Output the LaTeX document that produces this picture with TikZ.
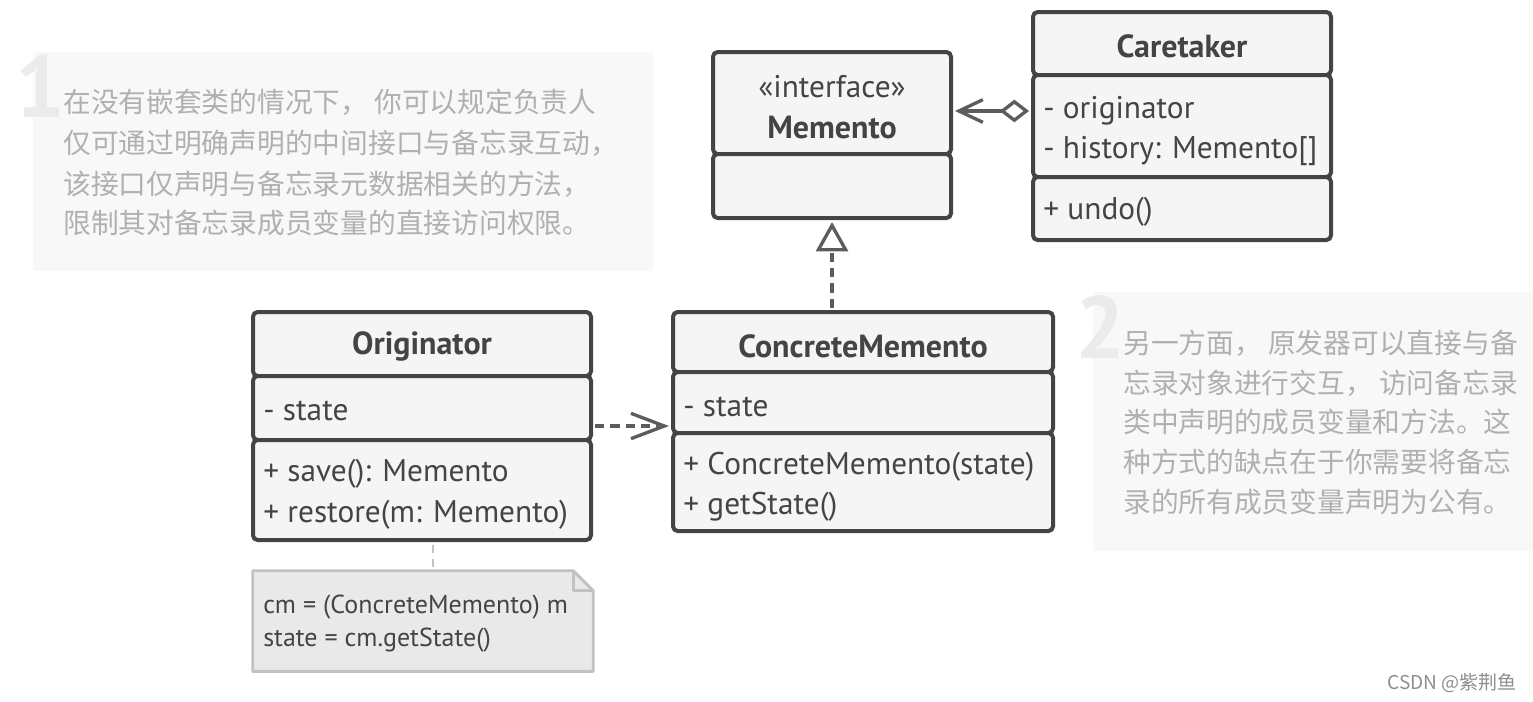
\documentclass[tikz,border=0pt]{standalone}
\usepackage{fontspec}
\setmainfont{PT Sans}
\newfontfamily\cjk{Noto Sans CJK SC}
\usetikzlibrary{arrows.meta,fit}
\definecolor{dk}{HTML}{444444}
\definecolor{bx}{HTML}{F5F5F5}
\definecolor{ar}{HTML}{5C5C5C}
\definecolor{nfill}{HTML}{E9E9E9}
\definecolor{nline}{HTML}{C2C2C2}
\definecolor{panel}{HTML}{F8F8F8}
\definecolor{digit}{HTML}{EBEBEB}
\definecolor{cjkc}{HTML}{B0B0B0}
\begin{document}
\begin{tikzpicture}[x=0.75pt,y=-0.75pt,
  box/.style={draw=dk, line width=3pt, fill=bx, rounded corners=3.5pt, inner sep=0pt},
  ttl/.style={font=\fontsize{24pt}{28pt}\selectfont\bfseries, text=dk, inner sep=0pt, yshift=-1.5pt},
  mem/.style={font=\fontsize{23.5pt}{28pt}\selectfont, text=dk, inner sep=0pt, anchor=west, yshift=-2.2pt},
  nt/.style={font=\fontsize{19.5pt}{23pt}\selectfont, text=dk, inner sep=0pt, anchor=west, yshift=-1pt},
  cn/.style={font=\cjk\fontsize{20.8pt}{25pt}\selectfont, text=cjkc, inner sep=0pt, anchor=west},
  dg/.style={font=\fontsize{66pt}{70pt}\selectfont\bfseries, text=digit, inner sep=0pt},
  pan/.style={fill=panel, inner sep=0pt},
  conn/.style={draw=ar, line width=3pt},
  dsh/.style={dash pattern=on 7pt off 4.5pt}
]
\useasboundingbox (0,0) rectangle (1533,701);

% panels
\node[pan, fit={(33,52)(653,271)}] (p1) {};
\node[pan, fit={(1093,292)(1533,551)}] (p2) {};
\node[dg, anchor=north west] (d1) at (15,55) {1};
\node[dg, anchor=north west] (d2) at (1075,295) {2};
\node[cn] (l11) at (63,102) {在没有嵌套类的情况下， 你可以规定负责人};
\node[cn] (l12) at (63,143) {仅可通过明确声明的中间接口与备忘录互动，};
\node[cn] (l13) at (63,184) {该接口仅声明与备忘录元数据相关的方法，};
\node[cn] (l14) at (63,223) {限制其对备忘录成员变量的直接访问权限。};
\node[cn] (l21) at (1123,343) {另一方面， 原发器可以直接与备};
\node[cn] (l22) at (1123,383) {忘录对象进行交互， 访问备忘录};
\node[cn] (l23) at (1123,422) {类中声明的成员变量和方法。这};
\node[cn] (l24) at (1123,462) {种方式的缺点在于你需要将备忘};
\node[cn] (l25) at (1123,502) {录的所有成员变量声明为公有。};

% Memento
\node[box, fit={(713,52)(951,154)}] (memH) {};
\node[box, fit={(713,154)(951,218)}] (memB) {};
\node[mem, anchor=center] (memS) at (832,84) {«interface»};
\node[ttl] (memT) at (832,126) {Memento};

% Caretaker
\node[box, fit={(1033,12)(1331,75)}] (ctH) {};
\node[box, fit={(1033,75)(1331,177)}] (ctA) {};
\node[box, fit={(1033,177)(1331,240)}] (ctM) {};
\node[ttl] (ctT) at (1182,44) {Caretaker};
\node[mem] (ct1) at (1043,108) {- originator};
\node[mem] (ct2) at (1043,148) {- history: Memento[]};
\node[mem] (ct3) at (1043,209) {+ undo()};

% Originator
\node[box, fit={(253,312)(591,376)}] (orH) {};
\node[box, fit={(253,376)(591,440)}] (orA) {};
\node[box, fit={(253,440)(591,540)}] (orM) {};
\node[ttl] (orT) at (422,344) {Originator};
\node[mem] (or1) at (263,408) {- state};
\node[mem] (or2) at (263,471) {+ save(): Memento};
\node[mem] (or3) at (263,512) {+ restore(m: Memento)};

% ConcreteMemento
\node[box, fit={(673,312)(1053,372)}] (cmH) {};
\node[box, fit={(673,372)(1053,433)}] (cmA) {};
\node[box, fit={(673,433)(1053,531)}] (cmM) {};
\node[ttl] (cmT) at (863,344) {ConcreteMemento};
\node[mem] (cm1) at (683,404) {- state};
\node[mem] (cm2) at (683,464) {+ ConcreteMemento(state)};
\node[mem] (cm3) at (683,504) {+ getState()};

% note
\node[inner sep=0pt, fit={(253,571)(593,671)}] (note) {};
\draw[draw=nline, fill=nfill, line width=2.2pt, line join=round]
  (note.north west) -- ([xshift=-15pt]note.north east) -- ([yshift=-15pt]note.north east)
  -- (note.south east) -- (note.south west) -- cycle;
\draw[draw=nline, line width=2pt, line join=round]
  ([xshift=-15pt]note.north east) -- ([xshift=-15pt,yshift=-15pt]note.north east) -- ([yshift=-15pt]note.north east);
\node[nt] (n1) at (263,606) {cm = (ConcreteMemento) m};
\node[nt] (n2) at (263,639) {state = cm.getState()};
\coordinate (xnote) at (433,0);
\draw[draw=nline, line width=2.2pt, dash pattern=on 6pt off 5pt] ([yshift=-2pt]orM.south -| xnote) -- (note.north -| xnote);

% connectors
\coordinate (yagg) at (0,111);
\coordinate (ydep) at (0,426);
\draw[conn, {Diamond[length=22pt,width=17pt,fill=white,line width=2.5pt]}-{Straight Barb[length=18pt,width=17pt,line width=2.5pt]}]
  ([xshift=-1.5pt]ctA.west |- yagg) -- ([xshift=1.5pt]memH.east |- yagg);
\draw[conn, dsh, -{Straight Barb[length=25pt,width=19pt,line width=2.5pt]}]
  ([xshift=1.5pt]orA.east |- ydep) -- ([xshift=-1.5pt]cmA.west |- ydep);
\coordinate (xreal) at (832,0);
\draw[conn, dsh, -{Triangle[length=22pt,width=24pt,fill=white,line width=2.5pt]}]
  ([yshift=1.5pt]cmH.north -| xreal) -- ([yshift=-1.5pt]memB.south -| xreal);

% watermark
\node[font=\cjk\fontsize{14.3pt}{16pt}\selectfont, text=cjkc!80!black, anchor=east, inner sep=0pt] (wm) at (1517,683) {CSDN @紫荆鱼};
\end{tikzpicture}
\end{document}
